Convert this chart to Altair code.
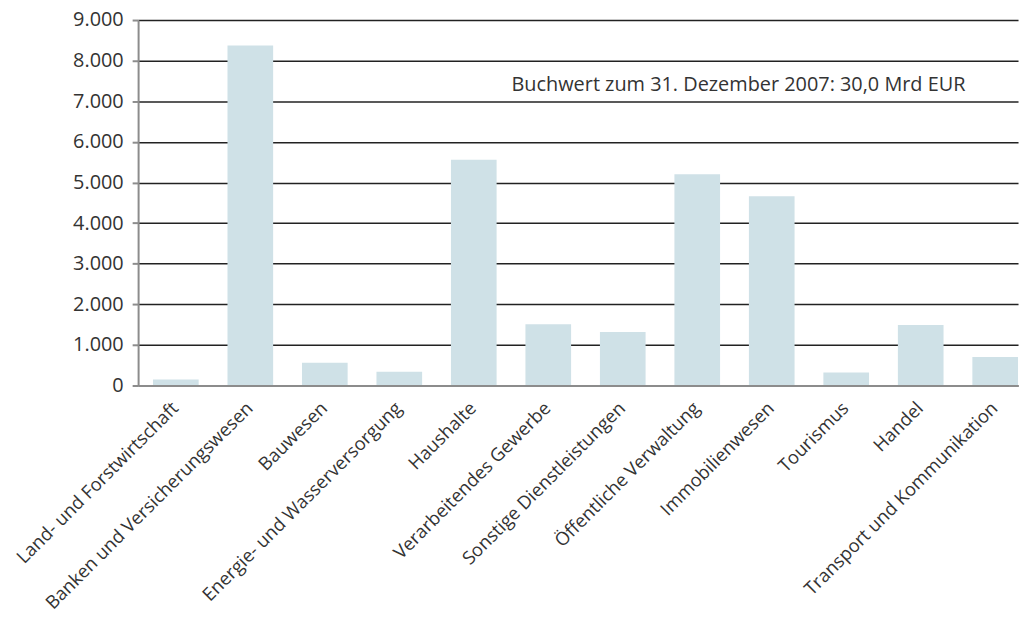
import altair as alt
import pandas as pd

categories = [
    "Land- und Forstwirtschaft",
    "Banken und Versicherungswesen",
    "Bauwesen",
    "Energie- und Wasserversorgung",
    "Haushalte",
    "Verarbeitendes Gewerbe",
    "Sonstige Dienstleistungen",
    "Öffentliche Verwaltung",
    "Immobilienwesen",
    "Tourismus",
    "Handel",
    "Transport und Kommunikation",
]
values = [150, 8370, 560, 340, 5560, 1510, 1320, 5200, 4660, 320, 1490, 700]
y_ticks = [0, 1000, 2000, 3000, 4000, 5000, 6000, 7000, 8000, 9000]
note = ["Buchwert zum 31. Dezember 2007: 30,0 Mrd EUR"]

FONT = "Open Sans"
WEIGHT = 400
df = pd.DataFrame({"Sektor": categories, "Wert": values})
note_df = pd.DataFrame({"t": note})

bars = alt.Chart(df).mark_bar(color="#cfe1e7").encode(
    x=alt.X(
        "Sektor:N",
        sort=categories,
        scale=alt.Scale(paddingInner=0.387, paddingOuter=0.1, align=1),
        axis=alt.Axis(
            title=None,
            labelAngle=-45,
            labelAlign="right",
            labelBaseline="top",
            labelFont=FONT,
            labelFontWeight=WEIGHT,
            labelFontSize=18.5,
            labelColor="#333333",
            labelPadding=13,
            labelOffset=-7,
            labelLimit=0,
            ticks=False,
            domainColor="#8c8c8c",
            domainWidth=2,
            zindex=1,
        ),
    ),
    y=alt.Y(
        "Wert:Q",
        scale=alt.Scale(domain=[0, 9000], nice=False),
        axis=alt.Axis(
            title=None,
            values=y_ticks,
            labelExpr="replace(format(datum.value, ',d'), ',', '.')",
            labelFont=FONT,
            labelFontWeight=WEIGHT,
            labelFontSize=20,
            labelColor="#333333",
            labelPadding=9,
            gridColor="#222222",
            gridWidth=1.5,
            domainColor="#8c8c8c",
            domainWidth=2,
            tickColor="#8c8c8c",
            tickWidth=2,
            tickSize=6,
        ),
    ),
)

text = alt.Chart(note_df).mark_text(
    align="left", baseline="alphabetic", font=FONT, fontWeight=WEIGHT,
    fontSize=20, color="#333333"
).encode(
    x=alt.value(376),
    y=alt.value(71),
    text="t:N",
)

chart = (
    alt.layer(bars, text)
    .properties(
        width=886,
        height=368,
        autosize=alt.AutoSizeParams(type="none"),
        padding={"top": 10, "left": 131, "right": 4, "bottom": 236},
    )
    .configure_view(stroke=None)
)

chart.save("out.html", embed_options={"renderer": "svg", "actions": False})
